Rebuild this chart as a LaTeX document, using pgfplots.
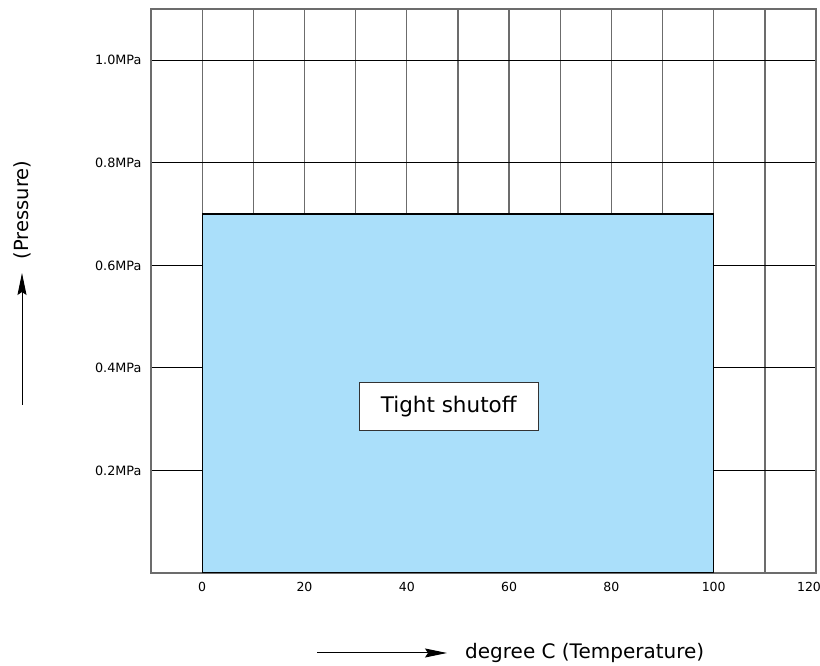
\documentclass[border=0pt]{standalone}
\usepackage{pgfplots}
\pgfplotsset{compat=1.18}
\usepackage{fontspec}
\setmainfont{DejaVu Sans}
\usetikzlibrary{arrows.meta}
\definecolor{shutoff}{RGB}{170,223,250}

\begin{document}
\begin{tikzpicture}
\path[use as bounding box] (0,0) rectangle (820pt,666pt);
\begin{axis}[
    at={(151pt,93pt)}, anchor=south west,
    scale only axis,
    width=665pt, height=564pt,
    xmin=-10, xmax=120,
    ymin=0, ymax=1.1,
    xtick={0,20,...,100},
    minor xtick={10,30,...,110},
    extra x ticks={120},
    extra x tick style={xticklabel style={xshift=-7pt}},
    ytick={0.2,0.4,0.6,0.8,1.0},
    yticklabels={0.2MPa,0.4MPa,0.6MPa,0.8MPa,1.0MPa},
    /pgf/number format/assume math mode=true,
    xticklabel style={font=\fontsize{12.5}{14}\selectfont, yshift=-6pt},
    yticklabel style={font=\fontsize{12.8}{14}\selectfont, xshift=-6pt},
    major tick length=0pt, minor tick length=0pt,
    xmajorgrids, xminorgrids, ymajorgrids,
    major x grid style={gray!85!black, line width=1.3pt},
    minor x grid style={gray!85!black, line width=1.3pt},
    major y grid style={black, line width=0.9pt},
    axis line style={gray!85!black, line width=1.3pt},
]
% region of tight shutoff
\addplot[fill=shutoff, draw=black, line width=1.2pt] coordinates {
    (0,0) (0,0.7) (100,0.7) (100,0)
} -- cycle;
\node[draw=black!80, fill=white, line width=0.8pt,
      minimum width=179pt, minimum height=48pt, inner sep=0pt,
      font=\fontsize{21.5}{24}\selectfont]
    at (axis cs:48.2,0.324) {Tight shutoff};
\end{axis}
% axis labels with arrows
\node[rotate=90, font=\fontsize{19.5}{22}\selectfont, inner sep=0pt]
    at (22pt,456pt) {(Pressure)};
\draw[line width=1pt, -{Stealth[length=22pt,width=9pt,inset=3pt]}] (22pt,261pt) -- (22pt,393pt);
\draw[line width=1pt, -{Stealth[length=22pt,width=9pt,inset=3pt]}] (317pt,13pt) -- (447pt,13pt);
\node[anchor=base west, inner sep=0pt, font=\fontsize{20}{22}\selectfont]
    at (465pt,7pt) {degree C (Temperature)};
\end{tikzpicture}
\end{document}
